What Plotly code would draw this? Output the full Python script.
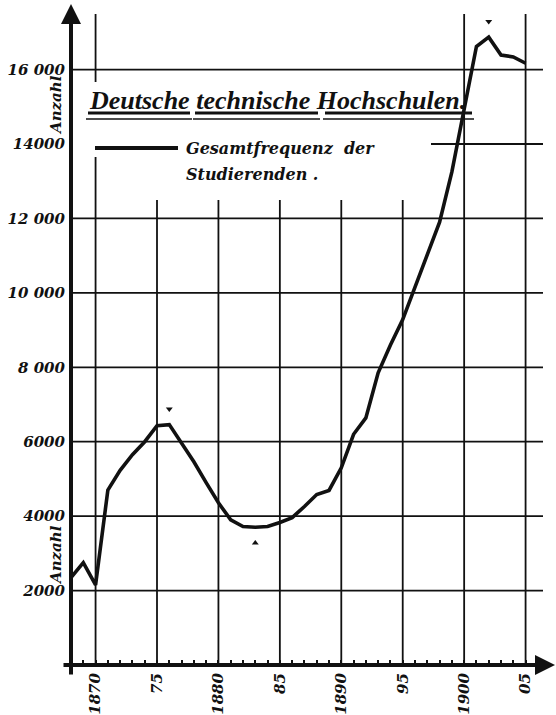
import plotly.graph_objects as go

# ---------------- data ----------------
years = list(range(1868, 1906))
students = [2350, 2750, 2150, 4700, 5230, 5650, 6000, 6430, 6460, 5970,
            5460, 4900, 4360, 3900, 3720, 3700, 3720, 3830, 3960, 4260,
            4580, 4690, 5300, 6200, 6640, 7850, 8600, 9280, 10160, 11070,
            11900, 13250, 14900, 16620, 16870, 16390, 16340, 16170]

x_tick_vals = [1870, 1875, 1880, 1885, 1890, 1895, 1900, 1905]
x_tick_text = ["1870", "75", "1880", "85", "1890", "95", "1900", "05"]
y_tick_vals = [2000, 4000, 6000, 8000, 10000, 12000, 14000, 16000]
y_tick_text = ["2000", "4000", "6000", "8 000", "10 000", "12 000", "14000", "16 000"]

peak_years = [1876, 1902]
trough_years = [1883]

title_text = "Deutsche technische Hochschulen."
legend_lines = ["Gesamtfrequenz  der", "Studierenden ."]
axis_title = "Anzahl"

# ---------------- geometry helpers (decoration placement) ----------------
W, H = 556, 715
L, R, T, B = 71, 5, 10, 50
PW, PH = W - L - R, H - T - B
PX_PER_YEAR = 12.286
X0 = 1868.0
X1 = X0 + PW / PX_PER_YEAR
PX_PER_UNIT = 74.43 / 2000
Y1 = PH / PX_PER_UNIT


def px2x(px):
    return X0 + (px - L) / PX_PER_YEAR


def py2y(py):
    return (H - B - py) / PX_PER_UNIT


def px2p(px):
    return (px - L) / PW


def py2p(py):
    return (H - B - py) / PH


BLACK = "#111111"
FONT = dict(family="DejaVu Serif", weight="bold", style="italic", color=BLACK)

fig = go.Figure()

fig.add_trace(go.Scatter(
    x=years, y=students, mode="lines",
    line=dict(color=BLACK, width=3.6),
    hoverinfo="x+y", showlegend=False,
))

# small triangles marking peaks / trough
fig.add_trace(go.Scatter(
    x=peak_years,
    y=[students[years.index(yr)] + 420 for yr in peak_years],
    mode="markers", marker=dict(symbol="triangle-down", size=6, color=BLACK),
    showlegend=False, hoverinfo="skip",
))
fig.add_trace(go.Scatter(
    x=trough_years,
    y=[students[years.index(yr)] - 420 for yr in trough_years],
    mode="markers", marker=dict(symbol="triangle-up", size=6, color=BLACK),
    showlegend=False, hoverinfo="skip",
))

shapes = []
gw = 1.8
# horizontal grid
for v in y_tick_vals:
    xstart = px2x(431) if v == 14000 else X0
    shapes.append(dict(type="line", xref="x", yref="y", x0=xstart, x1=px2x(543),
                       y0=v, y1=v, line=dict(color=BLACK, width=gw), layer="below"))
# vertical grid
for yr in x_tick_vals:
    if yr == 1870:
        segs = [(py2y(14), py2y(82)), (py2y(157), 0)]
    elif yr in (1900, 1905):
        segs = [(py2y(14), 0)]
    else:
        segs = [(py2y(200), 0)]
    for a, b in segs:
        shapes.append(dict(type="line", xref="x", yref="y", x0=yr, x1=yr, y0=a, y1=b,
                           line=dict(color=BLACK, width=gw), layer="below"))

# legend line
shapes.append(dict(type="line", xref="x", yref="y", x0=px2x(95), x1=px2x(178),
                   y0=py2y(148), y1=py2y(148), line=dict(color=BLACK, width=4)))

# title underlines (thick + thin)
for a, b in [(88, 190), (195, 318), (325, 472)]:
    shapes.append(dict(type="line", xref="x", yref="y", x0=px2x(a), x1=px2x(b),
                       y0=py2y(113), y1=py2y(113), line=dict(color=BLACK, width=3)))
    shapes.append(dict(type="line", xref="x", yref="y", x0=px2x(a - 2), x1=px2x(b + 2),
                       y0=py2y(119), y1=py2y(119), line=dict(color=BLACK, width=1.3)))

annotations = []
# axes with arrows (paper-referenced so they may extend beyond the plot area)
annotations.append(dict(x=px2p(555), y=py2p(665), xref="paper", yref="paper",
                        ax=-(555 - 62), ay=0, axref="pixel", ayref="pixel",
                        text="", showarrow=True, arrowhead=2,
                        arrowsize=1.0, arrowwidth=4, arrowcolor=BLACK, standoff=0,
                        startstandoff=0))
annotations.append(dict(x=px2p(71), y=py2p(4), xref="paper", yref="paper",
                        ax=0, ay=(676 - 4), axref="pixel", ayref="pixel",
                        text="", showarrow=True, arrowhead=2,
                        arrowsize=1.0, arrowwidth=4, arrowcolor=BLACK, standoff=0,
                        startstandoff=0))

# title
annotations.append(dict(x=px2p(87), y=py2p(101), xref="paper", yref="paper", text=title_text,
                        showarrow=False, xanchor="left", yanchor="middle",
                        font=dict(family="Liberation Serif", weight="bold", style="italic",
                                  size=26, color=BLACK)))
# legend texts
annotations.append(dict(x=px2p(184), y=py2p(149), xref="paper", yref="paper",
                        text=legend_lines[0], showarrow=False, xanchor="left",
                        yanchor="middle", font=dict(FONT, size=16)))
annotations.append(dict(x=px2p(184), y=py2p(175), xref="paper", yref="paper",
                        text=legend_lines[1], showarrow=False, xanchor="left",
                        yanchor="middle", font=dict(FONT, size=16)))
# "Anzahl" labels
for pyc in (105, 555):
    annotations.append(dict(x=px2p(56), y=py2p(pyc), xref="paper", yref="paper",
                            text=axis_title, showarrow=False, textangle=-90,
                            xanchor="center", yanchor="middle",
                            font=dict(FONT, size=15)))

fig.update_layout(
    width=W, height=H,
    margin=dict(l=L, r=R, t=T, b=B, autoexpand=False),
    paper_bgcolor="white", plot_bgcolor="white",
    shapes=shapes, annotations=annotations,
    showlegend=False,
    xaxis=dict(range=[X0, X1], showgrid=False, zeroline=False, showline=False,
               automargin=False,
               tickmode="array", tickvals=x_tick_vals, ticktext=x_tick_text,
               tickangle=-90, ticks="inside", ticklen=5, tickwidth=2, tickcolor=BLACK,
               ticklabelstandoff=4,
               minor=dict(dtick=1, tick0=1868, ticks="inside", ticklen=5, tickwidth=2,
                          tickcolor=BLACK, showgrid=False),
               tickfont=dict(FONT, size=15)),
    yaxis=dict(range=[0, Y1], showgrid=False, zeroline=False, showline=False,
               automargin=False,
               tickmode="array", tickvals=y_tick_vals, ticktext=y_tick_text,
               ticks="", ticklabelstandoff=5,
               tickfont=dict(FONT, size=15)),
)

fig.write_html("out.html", post_script="document.body.style.margin='0';",
               config={"displayModeBar": False})
